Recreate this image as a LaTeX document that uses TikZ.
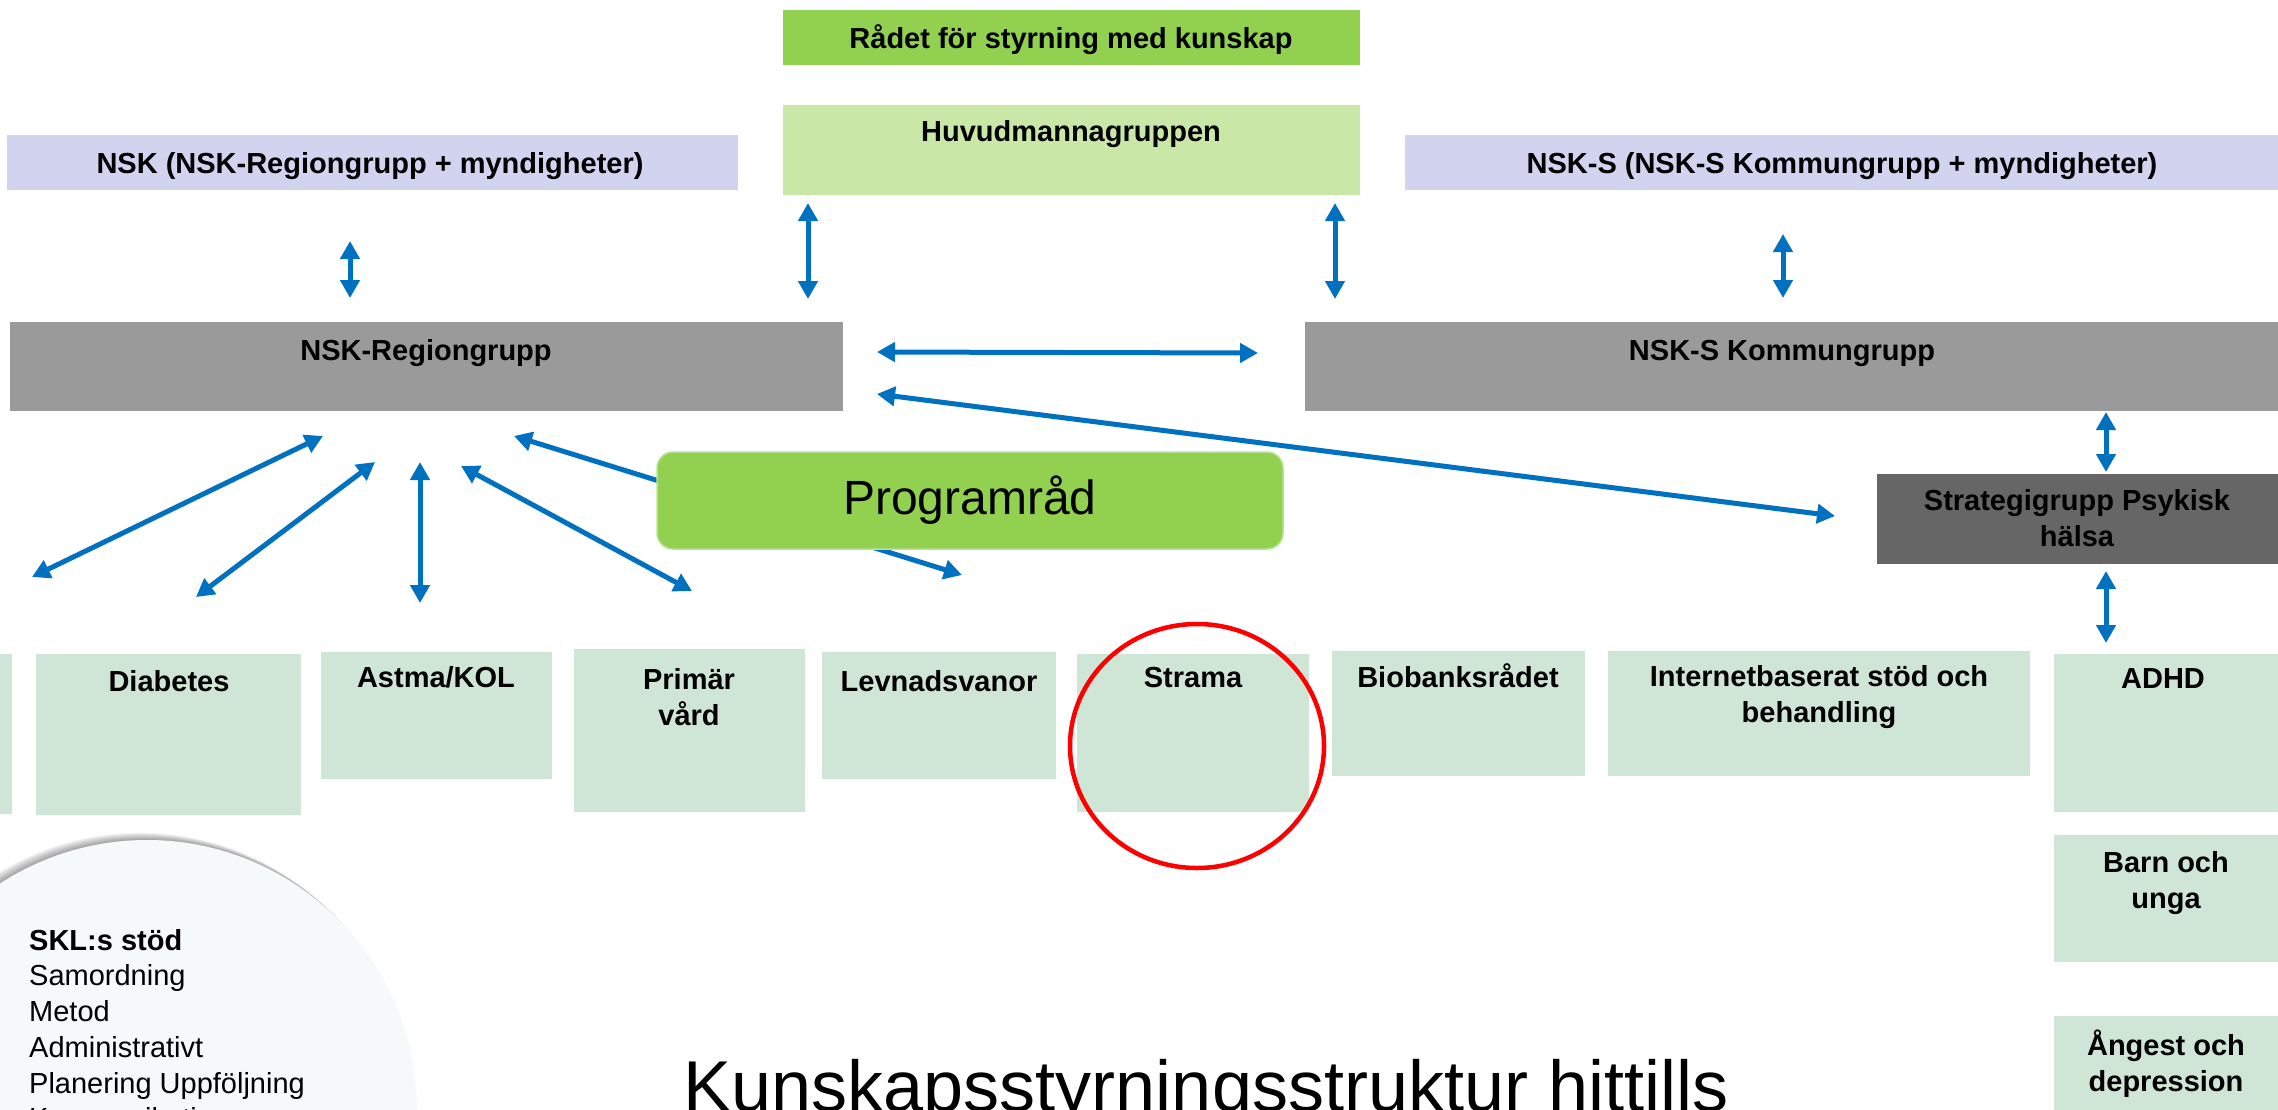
\documentclass[tikz,border=0pt]{standalone}
\usepackage{fontspec}
\setmainfont{Liberation Sans}
\usetikzlibrary{arrows.meta,calc,shapes.geometric}
\definecolor{grn}{HTML}{92D050}
\definecolor{lgrn}{HTML}{C9E7A7}
\definecolor{lav}{HTML}{D1D3EF}
\definecolor{gry}{HTML}{9A9A9A}
\definecolor{dgry}{HTML}{666666}
\definecolor{pale}{HTML}{CFE6D7}
\definecolor{arrblue}{HTML}{0070C0}
\definecolor{sklfill}{HTML}{F6F9F9}
\definecolor{progedge}{HTML}{B9E294}
\tikzset{
  box/.style={rectangle, inner sep=0pt, outer sep=0pt, anchor=north west},
  lbl/.style={font=\fontsize{29}{36}\selectfont\bfseries, align=center, inner sep=0pt},
  arr/.style={draw=arrblue, line width=5pt, {Triangle[length=18pt,width=19pt]}-{Triangle[length=18pt,width=19pt]}},
}
\begin{document}
\begin{tikzpicture}[x=1pt,y=-1pt]
\useasboundingbox (0,0) rectangle (2278,1109);
\clip (0,0) rectangle (2278,1109);

% SKL circle with soft shadow towards the upper left
\foreach \i in {1,...,8} {
  \fill[black, opacity=0.05] ({147-\i*0.9},{1110-\i*0.9}) circle (270);
}
\node[circle, fill=sklfill, minimum size=540pt, inner sep=0pt] (skl) at (147,1110) {};

% top boxes
\node[box, fill=grn, minimum width=577pt, minimum height=55pt] (radet) at (783,10) {};
\node[box, fill=lgrn, minimum width=577pt, minimum height=90pt] (huv) at (783,105) {};
\node[box, fill=lav, minimum width=731pt, minimum height=55pt] (nsk) at (7,135) {};
\node[box, fill=lav, minimum width=880pt, minimum height=55pt] (nsks) at (1405,135) {};
\node[box, fill=gry, minimum width=833pt, minimum height=89pt] (reg) at (10,322) {};
\node[box, fill=gry, minimum width=980pt, minimum height=89pt] (kom) at (1305,322) {};
\node[box, fill=dgry, minimum width=410pt, minimum height=90pt] (strat) at (1877,474) {};

% bottom boxes
\node[box, fill=pale, anchor=north east, minimum width=40pt, minimum height=160pt] (part) at (12,654) {};
\node[box, fill=pale, minimum width=265pt, minimum height=161pt] (diab) at (36,654) {};
\node[box, fill=pale, minimum width=231pt, minimum height=127pt] (astma) at (321,652) {};
\node[box, fill=pale, minimum width=231pt, minimum height=163pt] (prim) at (574,649) {};
\node[box, fill=pale, minimum width=234pt, minimum height=127pt] (levn) at (822,652) {};
\node[box, fill=pale, minimum width=232pt, minimum height=158pt] (strama) at (1077,654) {};
\node[box, fill=pale, minimum width=253pt, minimum height=125pt] (bio) at (1332,651) {};
\node[box, fill=pale, minimum width=422pt, minimum height=125pt] (inet) at (1608,651) {};
\node[box, fill=pale, minimum width=240pt, minimum height=158pt] (adhd) at (2054,654) {};
\node[box, fill=pale, minimum width=240pt, minimum height=127pt] (barn) at (2054,835) {};
\node[box, fill=pale, minimum width=240pt, minimum height=110pt] (angest) at (2054,1016) {};

% labels
\node[lbl, anchor=base] (radetT) at (1071,48) {Rådet för styrning med kunskap};
\node[lbl, anchor=base] (huvT) at (1071,141) {Huvudmannagruppen};
\node[lbl, anchor=base] (nskT) at (370,173) {NSK (NSK-Regiongrupp + myndigheter)};
\node[lbl, anchor=base] (nsksT) at (1842,173) {NSK-S (NSK-S Kommungrupp + myndigheter)};
\node[lbl, anchor=base] (regT) at (426,360) {NSK-Regiongrupp};
\node[lbl, anchor=base] (komT) at (1782,360) {NSK-S Kommungrupp};
\node[lbl] (stratT) at (2077,518) {Strategigrupp Psykisk\\hälsa};
\node[lbl, anchor=base] (diabT) at (169,691) {Diabetes};
\node[lbl, anchor=base] (astmaT) at (436,687) {Astma/KOL};
\node[lbl] (primT) at (689,697) {Primär\\vård};
\node[lbl, anchor=base] (levnT) at (939,691) {Levnadsvanor};
\node[lbl, anchor=base] (stramaT) at (1193,687) {Strama};
\node[lbl, anchor=base] (bioT) at (1458,687) {Biobanksrådet};
\node[lbl] (inetT) at (1819,697) {Internetbaserat stöd och\\behandling};
\node[lbl, anchor=base] (adhdT) at (2163,688) {ADHD};
\node[lbl] (barnT) at (2166,883) {Barn och\\unga};
\node[lbl] (angestT) at (2166,1064) {Ångest och\\depression};

% arrows
\draw[arr] ($(nsk.south west)+(343,51)$) -- ($(reg.north west)+(340,-24)$);
\draw[arr] ($(huv.south west)+(25,8)$) -- ($(reg.north west)+(798,-23)$);
\draw[arr] ($(huv.south west)+(552,8)$) -- ($(kom.north west)+(30,-23)$);
\draw[arr] ($(nsks.south west)+(378,44)$) -- ($(kom.north west)+(478,-24)$);
\draw[arr] ($(kom.south west)+(801,1)$) -- ($(strat.north west)+(229,-2)$);
\draw[arr] ($(strat.south west)+(229,7)$) -- ($(adhd.north west)+(52,-11)$);
\draw[arr] ($(reg.north east)+(34,30)$) -- ($(kom.north west)+(-47,31)$);
\draw[arr] ($(reg.south east)+(34,-17)$) -- ($(strat.west)+(-42,-3)$);
\draw[arr] ($(reg.south west)+(313,25)$) -- ($(part.north east)+(20,-77)$);
\draw[arr] ($(reg.south west)+(365,51)$) -- ($(diab.north west)+(160,-57)$);
\draw[arr] ($(reg.south west)+(410,51)$) -- ($(astma.north west)+(99,-49)$);
\draw[arr] ($(reg.south west)+(451,55)$) -- ($(prim.north west)+(118,-58)$);
\draw[arr] ($(reg.south west)+(504,25)$) -- ($(levn.north west)+(140,-77)$);

% Programråd
\node[box, fill=grn, draw=progedge, line width=1.5pt, rounded corners=16pt,
      minimum width=626pt, minimum height=97pt] (prog) at (657,452) {};
\node[font=\fontsize{48}{56}\selectfont, inner sep=0pt] (progT) at (prog.center) {Programråd};

% red circle
\node[ellipse, draw=red, line width=4.5pt, minimum width=254pt, minimum height=244pt, inner sep=0pt] (ring) at (1197,746) {};

% texts
\node[anchor=north west, align=left, inner sep=0pt, font=\fontsize{29}{35.7}\selectfont] (skltext) at (29,929)
  {\textbf{SKL:s stöd}\\Samordning\\Metod\\Administrativt\\Planering Uppföljning\\Kommunikation};
\node[anchor=base, inner sep=0pt, font=\fontsize{72}{80}\selectfont] (title) at (1206,1111) {Kunskapsstyrningsstruktur hittills};
\end{tikzpicture}
\end{document}
